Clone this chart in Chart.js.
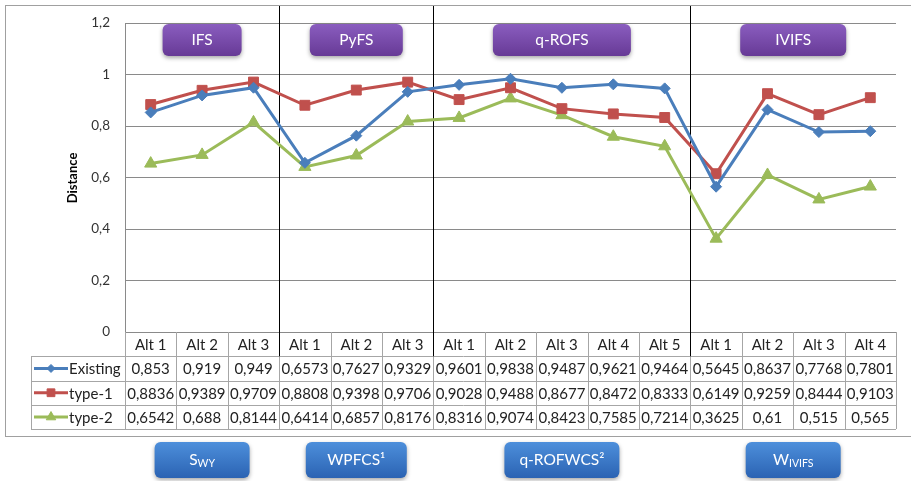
<!DOCTYPE html>
<html>
<head>
<meta charset="utf-8">
<script src="https://cdn.jsdelivr.net/npm/chart.js@4.4.0/dist/chart.umd.min.js"></script>
<style>
    html, body { margin: 0; padding: 0; background: #fff; }
    #wrap { position: relative; width: 911px; height: 481px; }
</style>
</head>
<body>
<div id="wrap"><canvas id="distanceChart"></canvas></div>
<script>
// Données
const categories = ['Alt 1', 'Alt 2', 'Alt 3', 'Alt 1', 'Alt 2', 'Alt 3', 'Alt 1', 'Alt 2', 'Alt 3', 'Alt 4', 'Alt 5', 'Alt 1', 'Alt 2', 'Alt 3', 'Alt 4'];
const groupSizes = [3, 3, 5, 4];
const setNames = ['IFS', 'PyFS', 'q-ROFS', 'IVIFS'];
const measureNames = [['S', 'WY'], ['WPFCS¹', ''], ['q-ROFWCS²', ''], ['W', 'IVIFS']];
const seriesNames = ['Existing', 'type-1', 'type-2'];
const existing = [0.853, 0.919, 0.949, 0.6573, 0.7627, 0.9329, 0.9601, 0.9838, 0.9487, 0.9621, 0.9464, 0.5645, 0.8637, 0.7768, 0.7801];
const type1 = [0.8836, 0.9389, 0.9709, 0.8808, 0.9398, 0.9706, 0.9028, 0.9488, 0.8677, 0.8472, 0.8333, 0.6149, 0.9259, 0.8444, 0.9103];
const type2 = [0.6542, 0.688, 0.8144, 0.6414, 0.6857, 0.8176, 0.8316, 0.9074, 0.8423, 0.7585, 0.7214, 0.3625, 0.61, 0.515, 0.565];
const yTicks = [0, 0.2, 0.4, 0.6, 0.8, 1, 1.2];

// Styles
const FONT = 'Lato, "Open Sans", sans-serif';
const seriesColors = ['#4A7EBB', '#C0504D', '#9BBB59'];
const pointStyles = ['rectRot', 'rect', 'triangle'];
const pointSizes = [5.5, 7, 7];
const topBoxWidths = [79, 93, 138, 106];
const bottomBoxWidths = [95, 101, 115, 95];
const ROW_H = 24.3;
const LEGEND_LEFT = 31;

function fmt(v) { return String(v).replace('.', ','); }

function groupBounds(chart) {
    const x = chart.scales.x;
    const w = (chart.chartArea.right - chart.chartArea.left) / categories.length;
    const out = [];
    let start = 0;
    groupSizes.forEach(function(n) {
        const l = x.getPixelForValue(start) - w / 2;
        const r = x.getPixelForValue(start + n - 1) + w / 2;
        out.push({ left: l, right: r, center: (l + r) / 2 });
        start += n;
    });
    return out;
}

function roundRect(ctx, x, y, w, h, r) {
    ctx.beginPath();
    ctx.moveTo(x + r, y);
    ctx.arcTo(x + w, y, x + w, y + h, r);
    ctx.arcTo(x + w, y + h, x, y + h, r);
    ctx.arcTo(x, y + h, x, y, r);
    ctx.arcTo(x, y, x + w, y, r);
    ctx.closePath();
}

function drawBox(ctx, cx, top, w, h, c1, c2, label, sub) {
    const x = cx - w / 2;
    ctx.save();
    ctx.shadowColor = 'rgba(0,0,0,0.35)';
    ctx.shadowBlur = 4;
    ctx.shadowOffsetY = 2;
    const g = ctx.createLinearGradient(0, top, 0, top + h);
    g.addColorStop(0, c1);
    g.addColorStop(1, c2);
    ctx.fillStyle = g;
    roundRect(ctx, x, top, w, h, 6);
    ctx.fill();
    ctx.restore();

    ctx.save();
    ctx.fillStyle = '#fff';
    ctx.textBaseline = 'middle';
    ctx.font = '15.5px ' + FONT;
    const mainW = ctx.measureText(label).width;
    ctx.font = '10.5px ' + FONT;
    const subW = sub ? ctx.measureText(sub).width : 0;
    const startX = cx - (mainW + subW) / 2;
    ctx.textAlign = 'left';
    ctx.font = '15.5px ' + FONT;
    ctx.fillText(label, startX, top + h / 2);
    if (sub) {
        ctx.font = '10.5px ' + FONT;
        ctx.fillText(sub, startX + mainW, top + h / 2 + 4);
    }
    ctx.restore();
}

const decorPlugin = {
    id: 'decor',
    beforeDraw(chart) {
        const ctx = chart.ctx;
        ctx.save();
        ctx.fillStyle = '#fff';
        ctx.fillRect(0, 0, chart.width, chart.height);
        ctx.strokeStyle = '#a0a0a0';
        ctx.lineWidth = 1;
        ctx.strokeRect(5.5, 5.5, chart.width + 20, 431);
        ctx.restore();
    },
    beforeDatasetsDraw(chart) {
        const ctx = chart.ctx;
        const area = chart.chartArea;
        const groups = groupBounds(chart);
        ctx.save();
        ctx.strokeStyle = '#000';
        ctx.lineWidth = 1;
        groups.slice(1).forEach(function(g) {
            const x = Math.round(g.left) + 0.5;
            ctx.beginPath();
            ctx.moveTo(x, 6);
            ctx.lineTo(x, area.bottom + ROW_H);
            ctx.stroke();
        });
        ctx.restore();
    },
    afterDraw(chart) {
        const ctx = chart.ctx;
        const area = chart.chartArea;
        const xScale = chart.scales.x;
        const colW = (area.right - area.left) / categories.length;
        const top = area.bottom;
        const bottom = top + ROW_H * 4;
        const rows = [existing, type1, type2];

        // Tableau de données
        ctx.save();
        ctx.strokeStyle = '#a6a6a6';
        ctx.lineWidth = 1;
        ctx.beginPath();
        for (let r = 1; r <= 4; r++) {
            const y = Math.round(top + r * ROW_H) + 0.5;
            ctx.moveTo(LEGEND_LEFT, y);
            ctx.lineTo(area.right, y);
        }
        ctx.moveTo(LEGEND_LEFT + 0.5, Math.round(top + ROW_H));
        ctx.lineTo(LEGEND_LEFT + 0.5, Math.round(bottom));
        for (let i = 0; i <= categories.length; i++) {
            const x = Math.round(area.left + i * colW) + 0.5;
            ctx.moveTo(x, top);
            ctx.lineTo(x, Math.round(bottom));
        }
        ctx.stroke();

        // Séparateurs noirs dans l'en-tête
        ctx.strokeStyle = '#000';
        ctx.beginPath();
        groupBounds(chart).slice(1).forEach(function(g) {
            const x = Math.round(g.left) + 0.5;
            ctx.moveTo(x, top);
            ctx.lineTo(x, top + ROW_H);
        });
        ctx.stroke();

        ctx.fillStyle = '#222';
        ctx.font = '15px ' + FONT;
        ctx.textAlign = 'center';
        ctx.textBaseline = 'middle';
        categories.forEach(function(c, i) {
            const cx = xScale.getPixelForValue(i);
            ctx.fillText(c, cx, top + ROW_H / 2 + 1);
            rows.forEach(function(row, r) {
                ctx.fillText(fmt(row[i]), cx, top + ROW_H * (r + 1.5) + 1);
            });
        });

        // Légende dans le tableau
        rows.forEach(function(row, r) {
            const y = top + ROW_H * (r + 1.5);
            ctx.strokeStyle = seriesColors[r];
            ctx.lineWidth = 3;
            ctx.beginPath();
            ctx.moveTo(34, y);
            ctx.lineTo(68, y);
            ctx.stroke();
            ctx.fillStyle = seriesColors[r];
            ctx.lineWidth = 1;
            Chart.helpers.drawPoint(ctx, { pointStyle: pointStyles[r], radius: pointSizes[r] - 1.5, rotation: 0, borderWidth: 1 }, 51, y);
            ctx.fillStyle = '#222';
            ctx.textAlign = 'left';
            ctx.fillText(seriesNames[r], 69, y + 1);
        });
        ctx.restore();

        // Titre de l'axe Y
        ctx.save();
        ctx.translate(73, 178);
        ctx.rotate(-Math.PI / 2);
        ctx.font = 'bold 13px ' + FONT;
        ctx.fillStyle = '#000';
        ctx.textAlign = 'center';
        ctx.textBaseline = 'middle';
        ctx.fillText('Distance', 0, 0);
        ctx.restore();

        // Étiquettes des groupes
        groupBounds(chart).forEach(function(g, i) {
            drawBox(ctx, g.center, 24, topBoxWidths[i], 32, '#8A5DBF', '#673A96', setNames[i], '');
            drawBox(ctx, g.center, 442, bottomBoxWidths[i], 36, '#4D8FDB', '#2B63B3', measureNames[i][0], measureNames[i][1]);
        });
    }
};

const datasets = [existing, type1, type2].map(function(data, i) {
    return {
        label: seriesNames[i],
        data: data,
        borderColor: seriesColors[i],
        backgroundColor: seriesColors[i],
        borderWidth: 3,
        pointStyle: pointStyles[i],
        pointRadius: pointSizes[i],
        pointBorderWidth: 1,
        pointBorderColor: seriesColors[i],
        tension: 0
    };
});

new Chart(document.getElementById('distanceChart'), {
    type: 'line',
    data: { labels: categories, datasets: datasets },
    options: {
        responsive: true,
        maintainAspectRatio: false,
        animation: false,
        layout: { padding: { left: 0, right: 15, top: 23, bottom: 149 } },
        plugins: { legend: { display: false }, tooltip: { enabled: false } },
        scales: {
            x: { display: false, offset: true },
            y: {
                min: 0,
                max: 1.2,
                afterBuildTicks: function(s) { s.ticks = yTicks.map(function(v) { return { value: v }; }); },
                afterFit: function(s) { s.width = 125; },
                ticks: { padding: 15, color: '#333', font: { family: FONT, size: 13.5 }, callback: function(v) { return fmt(v); } },
                grid: { color: '#8a8a8a', drawTicks: false },
                border: { color: '#8a8a8a' }
            }
        }
    },
    plugins: [decorPlugin]
});
</script>
</body>
</html>
